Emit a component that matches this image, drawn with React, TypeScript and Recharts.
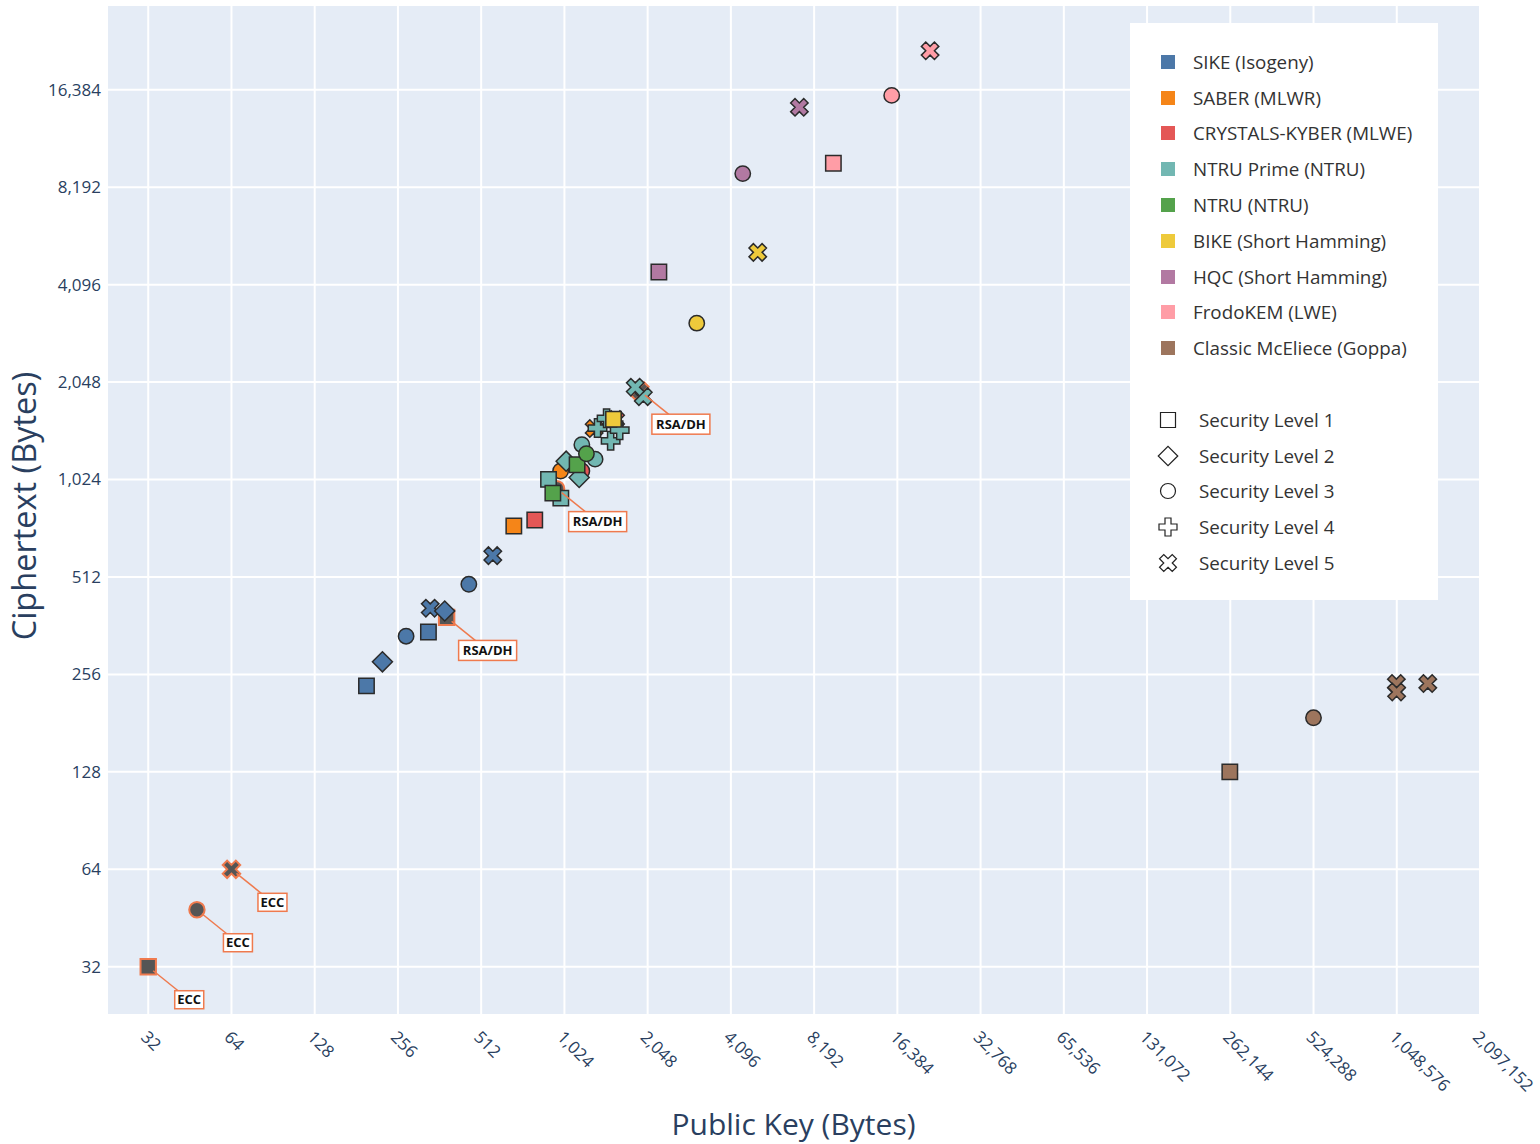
import React from "react";
import { ScatterChart, Scatter, XAxis, YAxis, CartesianGrid } from "recharts";

type Pt = { pk: number; ct: number; level: number; note?: string };

// public key / ciphertext sizes in bytes, level = NIST security level
const sike: Pt[] = [
  { pk: 197, ct: 236, level: 1 },
  { pk: 225, ct: 280, level: 2 },
  { pk: 274, ct: 336, level: 3 },
  { pk: 335, ct: 410, level: 5 },
  { pk: 330, ct: 346, level: 1 },
  { pk: 378, ct: 402, level: 2 },
  { pk: 462, ct: 486, level: 3 },
  { pk: 564, ct: 596, level: 5 },
];
const saber: Pt[] = [
  { pk: 672, ct: 736, level: 1 },
  { pk: 992, ct: 1088, level: 3 },
  { pk: 1312, ct: 1472, level: 5 },
];
const kyber: Pt[] = [
  { pk: 800, ct: 768, level: 1 },
  { pk: 1184, ct: 1088, level: 3 },
  { pk: 1568, ct: 1568, level: 5 },
];
const ntruPrime: Pt[] = [
  { pk: 994, ct: 897, level: 1 },
  { pk: 1158, ct: 1039, level: 2 },
  { pk: 1322, ct: 1184, level: 3 },
  { pk: 1505, ct: 1349, level: 4 },
  { pk: 1623, ct: 1455, level: 4 },
  { pk: 1975, ct: 1847, level: 5 },
  { pk: 897, ct: 1025, level: 1 },
  { pk: 1039, ct: 1167, level: 2 },
  { pk: 1184, ct: 1312, level: 3 },
  { pk: 1349, ct: 1477, level: 4 },
  { pk: 1455, ct: 1583, level: 4 },
  { pk: 1847, ct: 1975, level: 5 },
];
const ntru: Pt[] = [
  { pk: 930, ct: 930, level: 1 },
  { pk: 1138, ct: 1138, level: 1 },
  { pk: 1230, ct: 1230, level: 3 },
];
const bike: Pt[] = [
  { pk: 1541, ct: 1573, level: 1 },
  { pk: 3083, ct: 3115, level: 3 },
  { pk: 5122, ct: 5154, level: 5 },
];
const hqc: Pt[] = [
  { pk: 2249, ct: 4481, level: 1 },
  { pk: 4522, ct: 9026, level: 3 },
  { pk: 7245, ct: 14469, level: 5 },
];
const frodo: Pt[] = [
  { pk: 9616, ct: 9720, level: 1 },
  { pk: 15632, ct: 15744, level: 3 },
  { pk: 21520, ct: 21632, level: 5 },
];
const mceliece: Pt[] = [
  { pk: 261120, ct: 128, level: 1 },
  { pk: 524160, ct: 188, level: 3 },
  { pk: 1044992, ct: 240, level: 5 },
  { pk: 1047319, ct: 226, level: 5 },
  { pk: 1357824, ct: 240, level: 5 },
];
// classical reference points
const rsaDh: Pt[] = [
  { pk: 384, ct: 384, level: 1, note: "RSA/DH" },
  { pk: 960, ct: 960, level: 3, note: "RSA/DH" },
  { pk: 1920, ct: 1920, level: 5, note: "RSA/DH" },
];
const ecc: Pt[] = [
  { pk: 32, ct: 32, level: 1, note: "ECC" },
  { pk: 48, ct: 48, level: 3, note: "ECC" },
  { pk: 64, ct: 64, level: 5, note: "ECC" },
];

const xTicks = [32, 64, 128, 256, 512, 1024, 2048, 4096, 8192, 16384, 32768, 65536, 131072, 262144, 524288, 1048576, 2097152];
const yTicks = [32, 64, 128, 256, 512, 1024, 2048, 4096, 8192, 16384];

const schemes = [
  { name: "SIKE (Isogeny)", color: "#4C78A8", data: sike },
  { name: "SABER (MLWR)", color: "#F58518", data: saber },
  { name: "CRYSTALS-KYBER (MLWE)", color: "#E45756", data: kyber },
  { name: "NTRU Prime (NTRU)", color: "#72B7B2", data: ntruPrime },
  { name: "NTRU (NTRU)", color: "#54A24B", data: ntru },
  { name: "BIKE (Short Hamming)", color: "#EECA3B", data: bike },
  { name: "HQC (Short Hamming)", color: "#B279A2", data: hqc },
  { name: "FrodoKEM (LWE)", color: "#FF9DA6", data: frodo },
  { name: "Classic McEliece (Goppa)", color: "#9D755D", data: mceliece },
];

const levelNames = ["Security Level 1", "Security Level 2", "Security Level 3", "Security Level 4", "Security Level 5"];

const FONT = '"Open Sans", sans-serif';
const INK = "#2a3f5f";
const NOTE = "#ef7a4e";
const R = 7.7;

// plotly-like symbol paths, centred on 0,0
const symbolPath = (level: number, r: number) => {
  if (level === 1) return `M${r},${r}H-${r}V-${r}H${r}Z`;
  if (level === 2) {
    const d = r * 1.3;
    return `M${d},0L0,${d}L-${d},0L0,-${d}Z`;
  }
  if (level === 3) return `M${r},0A${r},${r} 0 1,1 0,-${r}A${r},${r} 0 0,1 ${r},0Z`;
  if (level === 4) {
    const c = r * 1.2;
    const t = r * 0.4;
    return `M${c},${t}H${t}V${c}H-${t}V${t}H-${c}V-${t}H-${t}V-${c}H${t}V-${t}H${c}Z`;
  }
  const x = +((r * 0.8) / Math.SQRT2).toFixed(2);
  const ne = `l${x},${x}`, se = `l${x},-${x}`, sw = `l-${x},-${x}`, nw = `l-${x},${x}`;
  return `M0,${x}` + ne + se + sw + se + sw + nw + sw + nw + ne + nw + ne + "Z";
};

const marker = (fill: string, stroke: string, sw: number) => (p: any) => {
  const level = p.payload?.level ?? p.level;
  return (
    <path
      d={symbolPath(level, R)}
      transform={`translate(${p.cx},${p.cy})`}
      fill={fill}
      stroke={stroke}
      strokeWidth={sw}
    />
  );
};

const noteShape = (p: any) => {
  const label = p.payload?.note ?? p.note;
  const bx = p.cx + 41;
  const by = p.cy + 33;
  const w = label === "ECC" ? 29 : 58;
  const h = label === "ECC" ? 18 : 20;
  return (
    <g>
      <line x1={p.cx + 5} y1={p.cy + 4} x2={bx} y2={by} stroke={NOTE} strokeWidth={1.5} />
      <rect x={bx - w / 2} y={by - h / 2} width={w} height={h} fill="#fff" stroke={NOTE} strokeWidth={1.5} />
      <text x={bx} y={by} dy="0.36em" textAnchor="middle" fontFamily={FONT} fontSize={13} fontWeight={700} fill="#111">
        {label}
      </text>
    </g>
  );
};

const fmt = (v: number) => v.toLocaleString("en-US");

const XTick = (p: any) => {
  const x = p.x - 4;
  const y = 1034;
  return (
    <text x={x} y={y} dy="0.35em" transform={`rotate(45 ${x} ${y})`} textAnchor="start" fontFamily={FONT} fontSize={17} fill={INK}>
      {fmt(p.payload.value)}
    </text>
  );
};

const YTick = (p: any) => (
  <text x={101} y={p.y} dy="0.35em" textAnchor="end" fontFamily={FONT} fontSize={17} fill={INK}>
    {fmt(p.payload.value)}
  </text>
);

const XTitle = (p: any) => {
  const vb = p.viewBox || { x: 107, width: 1373 };
  return (
    <text x={vb.x + vb.width / 2} y={1135} textAnchor="middle" fontFamily={FONT} fontSize={30} fill={INK}>
      Public Key (Bytes)
    </text>
  );
};

const YTitle = (p: any) => {
  const vb = p.viewBox || { y: 5, height: 1010 };
  const cx = 36;
  const cy = vb.y + vb.height / 2 - 4;
  return (
    <text x={cx} y={cy} transform={`rotate(-90 ${cx} ${cy})`} textAnchor="middle" fontFamily={FONT} fontSize={32.5} fill={INK}>
      Ciphertext (Bytes)
    </text>
  );
};

const LegendBox = () => (
  <div
    style={{
      position: "absolute",
      left: 1130,
      top: 23,
      width: 308,
      height: 577,
      background: "#fff",
      fontFamily: FONT,
      fontSize: 18.8,
      color: "#333",
      paddingTop: 21,
      boxSizing: "border-box",
    }}
  >
    {schemes.map((s) => (
      <div key={s.name} style={{ height: 35.8, display: "flex", alignItems: "center" }}>
        <span style={{ display: "inline-block", width: 14, height: 14, background: s.color, marginLeft: 31, marginRight: 18 }} />
        <span>{s.name}</span>
      </div>
    ))}
    <div style={{ height: 35.8 }} />
    {levelNames.map((n, i) => (
      <div key={n} style={{ height: 35.8, display: "flex", alignItems: "center" }}>
        <svg width={24} height={24} style={{ marginLeft: 26, marginRight: 19 }}>
          <path d={symbolPath(i + 1, 7.5)} transform="translate(12,12)" fill="#fff" stroke="#222" strokeWidth={1.2} />
        </svg>
        <span>{n}</span>
      </div>
    ))}
  </div>
);

export default function App() {
  return (
    <div style={{ position: "absolute", left: 0, top: 0, width: 1540, height: 1144, background: "#fff" }}>
      <ScatterChart width={1540} height={1144} margin={{ top: 5, right: 60, bottom: 0, left: 0 }}>
        <CartesianGrid fill="#e5ecf6" stroke="#fff" strokeWidth={2} />
        <XAxis
          type="number"
          dataKey="pk"
          scale="log"
          domain={[22.7, 2097152]}
          ticks={xTicks}
          interval={0}
          allowDataOverflow
          axisLine={false}
          tickLine={false}
          height={129}
          tick={<XTick />}
          label={XTitle}
        />
        <YAxis
          type="number"
          dataKey="ct"
          scale="log"
          domain={[22.7, 29950]}
          ticks={yTicks}
          interval={0}
          allowDataOverflow
          axisLine={false}
          tickLine={false}
          width={107}
          tick={<YTick />}
          label={YTitle}
        />
        <Scatter name="RSA/DH" data={rsaDh} shape={marker("#555", NOTE, 2)} isAnimationActive={false} legendType="none" />
        <Scatter name="ECC" data={ecc} shape={marker("#555", NOTE, 2)} isAnimationActive={false} legendType="none" />
        {schemes.map((s) => (
          <Scatter key={s.name} name={s.name} data={s.data} shape={marker(s.color, "#2b2b2b", 1.5)} isAnimationActive={false} />
        ))}
        <Scatter name="notes-rsa" data={rsaDh} shape={noteShape} isAnimationActive={false} legendType="none" />
        <Scatter name="notes-ecc" data={ecc} shape={noteShape} isAnimationActive={false} legendType="none" />
      </ScatterChart>
      <LegendBox />
    </div>
  );
}
